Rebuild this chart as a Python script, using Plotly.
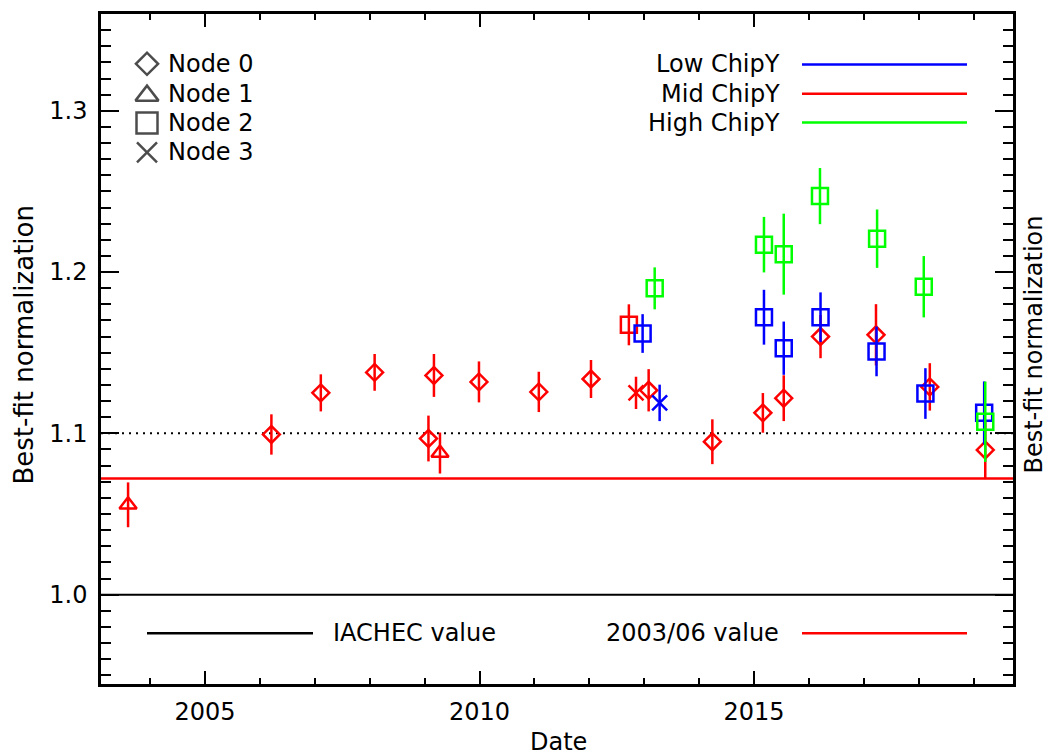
import plotly.graph_objects as go

# ---------------- data ----------------
mid_node0_date = [2006.21, 2007.11, 2008.09, 2009.07, 2009.17, 2009.99, 2011.08, 2012.03,
                  2013.08, 2014.24, 2015.16, 2015.54, 2016.21, 2017.22, 2018.20, 2019.21]
mid_node0_norm = [1.0993, 1.1251, 1.1378, 1.0968, 1.1359, 1.1319, 1.1257, 1.1337,
                  1.1267, 1.0948, 1.1127, 1.1218, 1.1600, 1.1611, 1.1288, 1.0897]
mid_node0_err = [0.0125, 0.0115, 0.0114, 0.0142, 0.0133, 0.0127, 0.0125, 0.0118,
                 0.0131, 0.0139, 0.0123, 0.0142, 0.0134, 0.0190, 0.0147, 0.0181]

mid_node1_date = [2003.60, 2009.28]
mid_node1_norm = [1.0557, 1.0878]
mid_node1_err = [0.0139, 0.0127]

mid_node2_date = [2012.72]
mid_node2_norm = [1.1673]
mid_node2_err = [0.0127]

mid_node3_date = [2012.85]
mid_node3_norm = [1.1251]
mid_node3_err = [0.0100]

low_node2_date = [2012.97, 2015.18, 2015.54, 2016.21, 2017.23, 2018.12, 2019.19]
low_node2_norm = [1.1619, 1.1720, 1.1528, 1.1720, 1.1508, 1.1247, 1.1127]
low_node2_err = [0.0120, 0.0170, 0.0165, 0.0154, 0.0154, 0.0157, 0.0195]

low_node3_date = [2013.28]
low_node3_norm = [1.1189]
low_node3_err = [0.0113]

high_node2_date = [2013.19, 2015.18, 2015.54, 2016.20, 2017.24, 2018.09, 2019.21]
high_node2_norm = [1.1899, 1.2170, 1.2111, 1.2471, 1.2207, 1.1909, 1.1072]
high_node2_err = [0.0130, 0.0172, 0.0251, 0.0174, 0.0181, 0.0190, 0.0249]

iachec_value = 1.0
value_2003_06 = 1.072
dotted_value = 1.1

node_labels = ["Node 0", "Node 1", "Node 2", "Node 3"]
chip_labels = ["Low ChipY", "Mid ChipY", "High ChipY"]
line_labels = ["IACHEC value", "2003/06 value"]

x_range = [2003.107, 2019.715]
y_range = [0.9446, 1.3600]

# ---------------- styling ----------------
W, H = 1051, 756
L, R, T, B = 101, 1013, 11, 684
BLUE, RED, GREEN, BLACK = "rgb(0,0,255)", "rgb(255,0,0)", "rgb(0,255,0)", "black"
FONT = "DejaVu Sans"
FS = 24


def px(xp):
    return (xp - L) / (R - L)


def py(yp):
    return (B - yp) / (B - T)


SYM = {0: ("diamond-open", 13), 1: ("triangle-up-open", 15),
       2: ("square-open", 16), 3: ("x-thin-open", 15)}

fig = go.Figure()


def add(xs, ys, es, node, color):
    sym, size = SYM[node]
    fig.add_trace(go.Scatter(
        x=xs, y=ys, mode="markers", showlegend=False,
        error_y=dict(type="data", array=es, visible=True, color=color,
                     thickness=2.5, width=0),
        marker=dict(symbol=sym, size=size, color=color,
                    line=dict(color=color, width=2.5)),
    ))


add(mid_node0_date, mid_node0_norm, mid_node0_err, 0, RED)
add(mid_node1_date, mid_node1_norm, mid_node1_err, 1, RED)
add(mid_node2_date, mid_node2_norm, mid_node2_err, 2, RED)
add(mid_node3_date, mid_node3_norm, mid_node3_err, 3, RED)
add(low_node2_date, low_node2_norm, low_node2_err, 2, BLUE)
add(low_node3_date, low_node3_norm, low_node3_err, 3, BLUE)
add(high_node2_date, high_node2_norm, high_node2_err, 2, GREEN)

# legend markers (upper left) on a hidden overlay axis in [0,1]
leg_rows = [61, 93, 120.5, 150]
leg_sizes = [17, 20, 21, 20]
leg_syms = [SYM[i][0] for i in range(4)]
fig.add_trace(go.Scatter(
    x=[px(147)] * 4, y=[py(r) for r in leg_rows], mode="markers",
    xaxis="x2", yaxis="y2", showlegend=False, hoverinfo="skip",
    marker=dict(symbol=leg_syms, size=leg_sizes, color=BLACK,
                line=dict(color=BLACK, width=2.5)),
))

annotations = []
for lab, r in zip(node_labels, [61, 91, 120.5, 150]):
    annotations.append(dict(x=px(166), y=py(r), xref="paper", yref="paper",
                            text=lab, showarrow=False, xanchor="left",
                            yanchor="middle", font=dict(size=FS)))

shapes = []
chip_rows = [61.7, 91, 120]
for lab, r, c in zip(chip_labels, chip_rows, [BLUE, RED, GREEN]):
    annotations.append(dict(x=px(782), y=py(r), xref="paper", yref="paper",
                            text=lab, showarrow=False, xanchor="right",
                            yanchor="middle", font=dict(size=FS)))
    shapes.append(dict(type="line", xref="paper", yref="paper",
                       x0=px(802), x1=px(967), y0=py(r), y1=py(r),
                       line=dict(color=c, width=2.5)))

# bottom legend
shapes.append(dict(type="line", xref="paper", yref="paper", x0=px(147), x1=px(313),
                   y0=py(633), y1=py(633), line=dict(color=BLACK, width=2.5)))
annotations.append(dict(x=px(331), y=py(633), xref="paper", yref="paper",
                        text=line_labels[0], showarrow=False, xanchor="left",
                        yanchor="middle", font=dict(size=FS)))
annotations.append(dict(x=px(781), y=py(633), xref="paper", yref="paper",
                        text=line_labels[1], showarrow=False, xanchor="right",
                        yanchor="middle", font=dict(size=FS)))
shapes.append(dict(type="line", xref="paper", yref="paper", x0=px(802), x1=px(967),
                   y0=py(633), y1=py(633), line=dict(color=RED, width=2.5)))

# reference lines
shapes.append(dict(type="line", xref="paper", yref="y", x0=0, x1=1,
                   y0=iachec_value, y1=iachec_value, layer="below",
                   line=dict(color=BLACK, width=2)))
shapes.append(dict(type="line", xref="paper", yref="y", x0=0, x1=1,
                   y0=value_2003_06, y1=value_2003_06, layer="below",
                   line=dict(color=RED, width=2.5)))
shapes.append(dict(type="line", xref="paper", yref="y", x0=0, x1=1,
                   y0=dotted_value, y1=dotted_value, layer="below",
                   line=dict(color=BLACK, width=2, dash="2px,5px")))

# axis titles
annotations.append(dict(x=px((L + R) / 2 + 1), y=py(742), xref="paper", yref="paper",
                        text="Date", showarrow=False, xanchor="center",
                        yanchor="middle", font=dict(size=FS)))
annotations.append(dict(x=px(24), y=py(343), xref="paper", yref="paper",
                        text="Best-fit normalization", showarrow=False,
                        textangle=-90, xanchor="center", yanchor="middle",
                        borderpad=0, font=dict(size=26)))
annotations.append(dict(x=px(1034), y=py(343), xref="paper", yref="paper",
                        text="Best-fit normalization", showarrow=False,
                        textangle=-90, xanchor="center", yanchor="middle",
                        borderpad=0, font=dict(size=24)))

axis_common = dict(showline=True, linecolor=BLACK, linewidth=2.5, mirror="ticks",
                   showgrid=False, zeroline=False, ticks="inside", tickcolor=BLACK,
                   tickwidth=2, tickfont=dict(size=FS, color=BLACK))

fig.update_layout(
    width=W, height=H,
    margin=dict(l=L, r=W - R, t=T, b=H - B, pad=0),
    paper_bgcolor="white", plot_bgcolor="white",
    font=dict(family=FONT, size=FS, color=BLACK),
    showlegend=False,
    xaxis=dict(range=x_range, tick0=2005, dtick=5, ticklen=13,
               minor=dict(dtick=1, ticklen=6, tickwidth=2, ticks="inside", tickcolor=BLACK),
               ticklabelstandoff=4, **axis_common),
    yaxis=dict(range=y_range, tick0=1.0, dtick=0.1, tickformat=".1f", ticklen=18,
               minor=dict(dtick=0.01, ticklen=10, tickwidth=2, ticks="inside", tickcolor=BLACK),
               ticklabelstandoff=6, **axis_common),
    xaxis2=dict(range=[0, 1], overlaying="x", visible=False, fixedrange=True),
    yaxis2=dict(range=[0, 1], overlaying="y", visible=False, fixedrange=True),
    shapes=shapes, annotations=annotations,
)

fig.write_html("out.html")
